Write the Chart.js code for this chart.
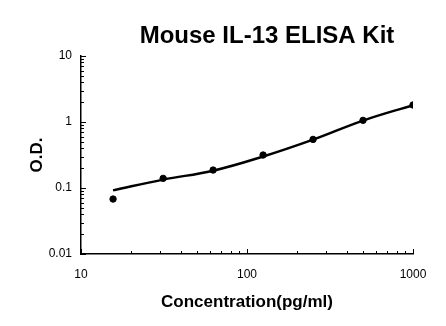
<!DOCTYPE html>
<html>
<head>
<meta charset="utf-8">
<script src="https://cdn.jsdelivr.net/npm/chart.js@4.4.1/dist/chart.umd.min.js"></script>
<style>
  html, body { margin: 0; padding: 0; background: #fff; }
  #wrap { width: 446px; height: 326px; }
</style>
</head>
<body>
<div id="wrap"><canvas id="chart" width="446" height="326"></canvas></div>
<script>
// standard concentrations (pg/ml) and measured O.D.
const conc = [15.6, 31.25, 62.5, 125, 250, 500, 1000];
const od = [0.068, 0.14, 0.187, 0.316, 0.545, 1.06, 1.81];
// fitted curve at the same concentrations
const fitOd = [0.092, 0.134, 0.183, 0.30, 0.54, 1.05, 1.8];

const xTicks = [10, 100, 1000];
const yTicks = [0.01, 0.1, 1, 10];

const titleText = "Mouse IL-13 ELISA Kit";
const FONT = "'Liberation Sans', Arial, sans-serif";

// draws the title and inward tick marks (major + minor)
const decor = {
  id: 'decor',
  afterDraw(chart) {
    const ctx = chart.ctx;
    const xs = chart.scales.x, ys = chart.scales.y;
    const area = chart.chartArea;
    ctx.save();
    ctx.strokeStyle = '#000';
    ctx.lineWidth = 1;
    ctx.beginPath();
    for (let d = 10; d < 1000; d *= 10) {
      for (let k = 1; k <= 10; k++) {
        const px = Math.round(xs.getPixelForValue(d * k)) + 0.5;
        const len = k === 1 || k === 10 ? 5 : 3;
        ctx.moveTo(px, area.bottom);
        ctx.lineTo(px, area.bottom - len);
      }
    }
    for (let d = 0.01; d < 10; d *= 10) {
      for (let k = 1; k <= 10; k++) {
        const py = Math.round(ys.getPixelForValue(d * k)) + 0.5;
        const len = k === 1 || k === 10 ? 5 : 3;
        ctx.moveTo(area.left, py);
        ctx.lineTo(area.left + len, py);
      }
    }
    ctx.stroke();

    ctx.fillStyle = '#000';
    ctx.font = "bold 24px " + FONT;
    ctx.textAlign = 'center';
    ctx.textBaseline = 'alphabetic';
    ctx.fillText(titleText, 267, 43);
    ctx.restore();
  }
};

new Chart(document.getElementById('chart'), {
  type: 'scatter',
  data: {
    datasets: [
      {
        label: 'fit',
        data: conc.map((c, i) => ({ x: c, y: fitOd[i] })),
        showLine: true,
        borderColor: '#000',
        borderWidth: 2.5,
        tension: 0.4,
        pointRadius: 0
      },
      {
        label: 'O.D.',
        data: conc.map((c, i) => ({ x: c, y: od[i] })),
        backgroundColor: '#000',
        borderColor: '#000',
        pointRadius: 3.2,
        showLine: false
      }
    ]
  },
  plugins: [decor],
  options: {
    responsive: false,
    animation: false,
    layout: { padding: { top: 56, right: 33, left: 0, bottom: 0 } },
    plugins: { legend: { display: false }, tooltip: { enabled: false } },
    scales: {
      x: {
        type: 'logarithmic',
        min: 10, max: 1000,
        afterBuildTicks: s => { s.ticks = xTicks.map(v => ({ value: v })); },
        afterFit: s => { s.height = 72; },
        grid: { display: false, drawTicks: false },
        border: { display: true, color: '#000', width: 1.5 },
        ticks: {
          color: '#000', font: { family: FONT, size: 12 }, padding: 13,
          maxRotation: 0, callback: v => String(v)
        },
        title: {
          display: true, text: 'Concentration(pg/ml)', color: '#000',
          font: { family: FONT, size: 17, weight: 'bold' },
          padding: { top: 0, bottom: 13 }
        }
      },
      y: {
        type: 'logarithmic',
        min: 0.01, max: 10,
        afterBuildTicks: s => { s.ticks = yTicks.map(v => ({ value: v })); },
        afterFit: s => { s.width = 81; },
        grid: { display: false, drawTicks: false },
        border: { display: true, color: '#000', width: 1.5 },
        ticks: {
          color: '#000', font: { family: FONT, size: 12 }, padding: 9,
          callback: v => String(v)
        },
        title: {
          display: true, text: 'O.D.', color: '#000',
          font: { family: FONT, size: 17, weight: 'bold' },
          padding: { top: 27, bottom: 0 }
        }
      }
    }
  }
});
</script>
</body>
</html>
